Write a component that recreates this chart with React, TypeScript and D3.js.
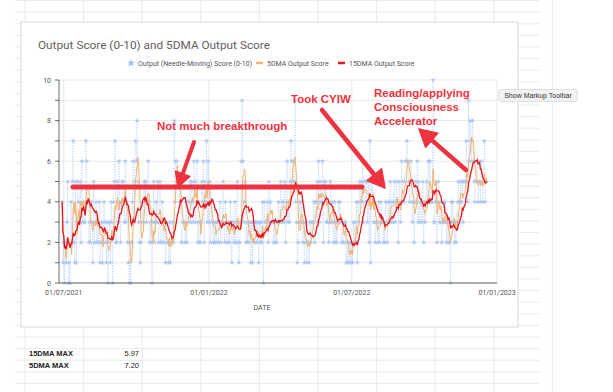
import React from "react";
import * as d3 from "d3";

// daily output scores, one row per week, starting 29/06/2021
const startDate = new Date(2021, 5, 29);
const weeklyScores = [
  [4, 1, 2, 0, 2, 1, 3], [5, 0, 1, 0, 4, 2, 5], [7, 2, 1, 5, 1, 3, 5], [4, 3, 5, 2, 6, 3, 4],
  [3, 3, 7, 6, 4, 4, 2], [3, 2, 4, 3, 1, 5, 2], [3, 4, 2, 3, 2, 4, 1], [2, 3, 1, 2, 4, 3, 2],
  [1, 3, 0, 2, 3, 1, 4], [3, 0, 4, 5, 7, 2, 2], [5, 3, 6, 4, 2, 4, 5], [5, 4, 3, 6, 3, 4, 2],
  [1, 0, 2, 0, 2, 4, 6], [3, 5, 7, 6, 8, 5, 3], [2, 1, 2, 3, 4, 3, 5], [4, 5, 3, 4, 6, 4, 2],
  [3, 2, 0, 3, 5, 2, 3], [4, 3, 5, 2, 3, 5, 2], [2, 4, 3, 2, 3, 1, 3], [2, 2, 1, 3, 1, 2, 2],
  [3, 2, 8, 4, 6, 6, 5], [5, 5, 4, 5, 2, 2, 3], [3, 3, 2, 4, 2, 4, 3], [4, 5, 3, 5, 4, 3, 6],
  [5, 3, 4, 6, 2, 3, 2], [2, 3, 5, 4, 6, 2, 5], [4, 7, 3, 6, 3, 5, 2], [3, 4, 2, 3, 2, 3, 2],
  [3, 3, 2, 3, 4, 2, 3], [3, 5, 3, 2, 4, 3, 2], [2, 3, 2, 4, 3, 1, 3], [3, 2, 4, 2, 3, 5, 2],
  [1, 2, 3, 6, 9, 6, 3], [4, 5, 2, 3, 2, 3, 2], [3, 1, 3, 1, 3, 2, 2], [3, 3, 2, 3, 1, 3, 2],
  [3, 2, 4, 0, 4, 3, 3], [3, 4, 2, 5, 3, 4, 3], [3, 3, 2, 3, 2, 3, 2], [3, 4, 3, 3, 5, 3, 4],
  [4, 3, 5, 2, 4, 6, 3], [4, 3, 5, 7, 6, 6, 5], [5, 9, 4, 3, 1, 2, 3], [4, 3, 4, 3, 2, 3, 1],
  [2, 3, 1, 2, 2, 1, 3], [2, 3, 3, 3, 4, 2, 4], [4, 5, 3, 6, 3, 5, 4], [4, 6, 2, 5, 4, 5, 3],
  [3, 4, 2, 3, 5, 3, 4], [3, 2, 4, 2, 3, 2, 3], [4, 3, 4, 3, 2, 3, 2], [2, 3, 3, 1, 2, 1, 2],
  [1, 2, 1, 2, 1, 3, 2], [3, 2, 4, 1, 4, 3, 5], [4, 5, 4, 6, 3, 5, 5], [4, 5, 3, 5, 2, 7, 1],
  [5, 4, 5, 3, 3, 2, 3], [3, 2, 4, 2, 3, 4, 3], [3, 2, 3, 2, 4, 3, 2], [4, 3, 4, 5, 3, 4, 3],
  [4, 5, 3, 4, 5, 4, 2], [5, 4, 3, 6, 5, 4, 4], [5, 6, 6, 7, 6, 5, 4], [5, 6, 4, 3, 4, 2, 4],
  [5, 4, 6, 3, 5, 3, 4], [4, 3, 5, 2, 4, 3, 4], [5, 4, 6, 4, 6, 4, 4], [4, 10, 3, 3, 4, 5, 2],
  [4, 5, 3, 4, 3, 2, 3], [4, 3, 4, 3, 2, 3, 2], [3, 2, 0, 4, 3, 4, 3], [2, 3, 2, 3, 4, 5, 4],
  [4, 5, 4, 5, 3, 5, 5], [5, 7, 5, 4, 9, 6, 8], [7, 6, 8, 6, 5, 4, 5], [5, 6, 4, 5, 5, 4, 6],
  [5, 4, 5, 7, 4, 5, 5],
];

const yTicks = [0, 2, 4, 6, 8, 10];
const xTickDates = [new Date(2021, 6, 1), new Date(2022, 0, 1), new Date(2022, 6, 1), new Date(2023, 0, 1)];
const xTickLabels = ["01/07/2021", "01/01/2022", "01/07/2022", "01/01/2023"];
const seriesNames = ["Output (Needle-Moving) Score (0-10)", "5DMA Output Score", "15DMA Output Score"];
const tableLabels = ["15DMA MAX", "5DMA MAX"];
const tableValues = ["5.97", "7.20"];

const BLUE = "#a4c2f4";
const ORANGE = "#f6b26b";
const RED = "#e8141b";
const MARK = "#ee3340";

const scores = weeklyScores.flat();
const dates = scores.map((_, i) => d3.timeDay.offset(startDate, i));
const movingAvg = (n) => scores.map((_, i) => d3.mean(scores.slice(Math.max(0, i - n + 1), i + 1)));
const ma5 = movingAvg(5);
const ma15 = movingAvg(15);

const x = d3.scaleTime().domain([new Date(2021, 5, 25), new Date(2023, 0, 1)]).range([59, 497]);
const y = d3.scaleLinear().domain([0, 10]).range([283, 80]);

const line = d3
  .line()
  .x((d) => x(d[0]))
  .y((d) => y(d[1]));

const star = d3.symbol(d3.symbolStar, 9)();

// arrow with filled head, from tail to tip
const Arrow = ({ x1, y1, x2, y2, w = 4.5, head = 17 }) => {
  const a = Math.atan2(y2 - y1, x2 - x1);
  const bx = x2 - head * Math.cos(a);
  const by = y2 - head * Math.sin(a);
  const px = Math.cos(a + Math.PI / 2) * head * 0.55;
  const py = Math.sin(a + Math.PI / 2) * head * 0.55;
  return (
    <g>
      <line x1={x1} y1={y1} x2={bx} y2={by} stroke={MARK} strokeWidth={w} strokeLinecap="round" />
      <path d={`M${x2},${y2}L${bx + px},${by + py}L${bx - px},${by - py}Z`} fill={MARK} stroke={MARK} strokeLinejoin="round" strokeWidth={1.5} />
    </g>
  );
};

export default function App() {
  const rows = d3.range(-5, 30).map((k) => 337 - 11.6 * k);
  const cols = d3.range(0, 10).map((k) => 25 + 58.6 * k);
  const yGrid = d3.range(0, 11);

  return (
    <svg width={613} height={392} style={{ position: "absolute", left: 0, top: 0, background: "#fff" }} fontFamily="Roboto, sans-serif">
      {/* spreadsheet grid behind the chart */}
      <g stroke="#e4e4e4" strokeWidth={0.8}>
        {rows.map((r) => (
          <line key={"r" + r} x1={15} x2={540} y1={r} y2={r} />
        ))}
        {cols.map((c) => (
          <line key={"c" + c} x1={c} x2={c} y1={0} y2={392} />
        ))}
      </g>

      <rect x={21} y={22} width={497} height={305} fill="#fff" stroke="#d9d9d9" />

      <text x={38} y={49} fontSize={11.8} fill="#5f5f5f">
        Output Score (0-10) and 5DMA Output Score
      </text>

      {/* legend */}
      <g fontSize={7} fill="#555">
        <path d={d3.symbol(d3.symbolStar, 22)()} transform="translate(131,63)" fill={BLUE} />
        <text x={138} y={65.5}>{seriesNames[0]}</text>
        <line x1={256} x2={263} y1={63} y2={63} stroke={ORANGE} strokeWidth={2.5} />
        <text x={267} y={65.5}>{seriesNames[1]}</text>
        <line x1={338} x2={345} y1={63} y2={63} stroke={RED} strokeWidth={2.5} />
        <text x={349} y={65.5}>{seriesNames[2]}</text>
      </g>

      {/* gridlines */}
      <g stroke="#e2e2e2" strokeWidth={0.8}>
        {yGrid.map((v) => (
          <line key={v} x1={59} x2={497} y1={y(v)} y2={y(v)} />
        ))}
        {xTickDates.map((d) => (
          <line key={+d} x1={x(d)} x2={x(d)} y1={80} y2={283} />
        ))}
      </g>

      {/* y axis */}
      <line x1={59} x2={59} y1={80} y2={283} stroke="#444" strokeWidth={0.8} />
      {yGrid.map((v) => (
        <line key={v} x1={55} x2={59} y1={y(v)} y2={y(v)} stroke="#444" strokeWidth={0.8} />
      ))}
      <g fontSize={7} fill="#555" textAnchor="end">
        {yTicks.map((v) => (
          <text key={v} x={51} y={y(v) + 2.5}>
            {v}
          </text>
        ))}
      </g>

      {/* series */}
      <path
        d={line(scores.map((s, i) => [dates[i], s]))}
        fill="none"
        stroke={BLUE}
        strokeWidth={0.9}
        strokeDasharray="1 1.6"
        opacity={0.75}
      />
      <g fill={BLUE} opacity={0.85}>
        {scores.map((s, i) => (
          <path key={i} d={star} transform={`translate(${x(dates[i])},${y(s)})`} />
        ))}
      </g>
      <path d={line(ma5.map((s, i) => [dates[i], s]))} fill="none" stroke={ORANGE} strokeWidth={1} />
      <path d={line(ma15.map((s, i) => [dates[i], s]))} fill="none" stroke={RED} strokeWidth={1.3} />

      {/* x axis */}
      <line x1={59} x2={497} y1={283} y2={283} stroke="#444" strokeWidth={0.8} />
      <g fontSize={7} fill="#555" textAnchor="middle">
        {xTickDates.map((d, i) => (
          <text key={i} x={x(d)} y={295}>
            {xTickLabels[i]}
          </text>
        ))}
        <text x={262} y={310}>
          DATE
        </text>
      </g>

      {/* markup annotations */}
      <line x1={73} x2={362} y1={187} y2={187} stroke={MARK} strokeWidth={5} strokeLinecap="round" />
      <Arrow x1={194} y1={142} x2={178} y2={187} w={4} head={14} />
      <Arrow x1={322} y1={110} x2={385} y2={188} />
      <Arrow x1={466} y1={170} x2={419} y2={129} />
      <g fill={MARK} fontFamily="'Liberation Sans', Arial, sans-serif" fontWeight="bold" fontSize={11.5}>
        <text x={157} y={130}>Not much breakthrough</text>
        <text x={291} y={103}>Took CYIW</text>
        <text x={374} y={97}>Reading/applying</text>
        <text x={374} y={111}>Consciousness</text>
        <text x={374} y={125}>Accelerator</text>
      </g>

      {/* tooltip */}
      <rect x={498.5} y={89.5} width={79} height={12} rx={2.5} fill="#f2f2f2" stroke="#d0d0d0" strokeWidth={0.6} />
      <text x={538} y={98} fontSize={7} fill="#333" textAnchor="middle" fontFamily="'Liberation Sans', Arial, sans-serif">
        Show Markup Toolbar
      </text>

      {/* summary cells */}
      <g fontSize={7.5} fontFamily="'Liberation Sans', Arial, sans-serif" fill="#222">
        {tableLabels.map((t, i) => (
          <g key={t}>
            <text x={29} y={356 + i * 12} fontWeight="bold">
              {t}
            </text>
            <text x={139} y={356 + i * 12} textAnchor="end">
              {tableValues[i]}
            </text>
          </g>
        ))}
      </g>
    </svg>
  );
}
